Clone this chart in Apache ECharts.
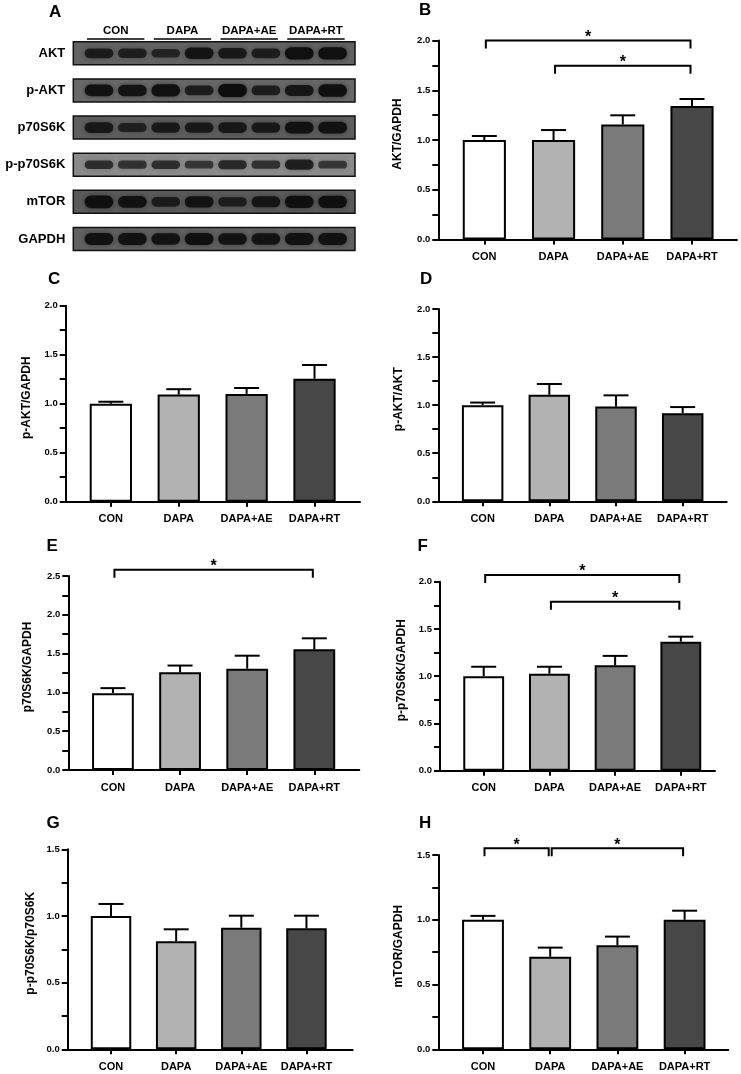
<!DOCTYPE html>
<html><head><meta charset="utf-8">
<script src="https://cdn.jsdelivr.net/npm/echarts@6/dist/echarts.min.js"></script>
<style>html,body{margin:0;padding:0;background:#fff}#c{width:741px;height:1074px}</style>
</head><body><div id="c"></div>
<script>
// ---------- data ----------
const categories = ['CON', 'DAPA', 'DAPA+AE', 'DAPA+RT'];
const yTicks05 = ['0.0', '0.5', '1.0', '1.5', '2.0', '2.5'];

// Western blot (panel A): relative band intensity, 8 lanes (2 per group)
const blotRows = ['AKT', 'p-AKT', 'p70S6K', 'p-p70S6K', 'mTOR', 'GAPDH'];
const blotGroups = ['CON', 'DAPA', 'DAPA+AE', 'DAPA+RT'];
const bandAKT     = [0.60, 0.55, 0.45, 0.80, 0.70, 0.60, 0.90, 0.90];
const bandPAKT    = [0.85, 0.80, 0.90, 0.60, 1.00, 0.60, 0.75, 0.95];
const bandP70     = [0.70, 0.50, 0.65, 0.65, 0.70, 0.65, 0.85, 0.85];
const bandPP70    = [0.45, 0.40, 0.45, 0.35, 0.50, 0.40, 0.65, 0.35];
const bandMTOR    = [0.95, 0.85, 0.60, 0.80, 0.55, 0.75, 0.90, 0.90];
const bandGAPDH   = [0.85, 0.85, 0.80, 0.90, 0.80, 0.80, 0.85, 0.85];

// Bar panels: mean and SEM per group
const aktGapdhMean   = [1.00, 1.00, 1.155, 1.342];
const aktGapdhSem    = [0.040, 0.100, 0.093, 0.070];
const pAktGapdhMean  = [1.00, 1.093, 1.100, 1.255];
const pAktGapdhSem   = [0.020, 0.055, 0.060, 0.140];
const pAktAktMean    = [1.00, 1.108, 0.985, 0.915];
const pAktAktSem     = [0.027, 0.112, 0.117, 0.065];
const p70GapdhMean   = [0.99, 1.260, 1.306, 1.555];
const p70GapdhSem    = [0.065, 0.086, 0.167, 0.142];
const pP70GapdhMean  = [1.00, 1.025, 1.115, 1.365];
const pP70GapdhSem   = [0.100, 0.075, 0.100, 0.053];
const pP70P70Mean    = [1.00, 0.810, 0.912, 0.907];
const pP70P70Sem     = [0.090, 0.090, 0.090, 0.095];
const mtorGapdhMean  = [1.00, 0.715, 0.803, 1.000];
const mtorGapdhSem   = [0.030, 0.070, 0.067, 0.070];

// significance brackets: [fromGroup, toGroup, height]
const sigB = [[0, 3, 2.00], [1, 3, 1.747]];
const sigC = [];
const sigD = [];
const sigE = [[0, 3, 2.58]];
const sigF = [[0, 3, 2.07], [1, 3, 1.788]];
const sigG = [];
const sigH = [[0, 1, 1.552], [1, 3, 1.552]];

// ---------- style / layout ----------
const FONT = '"Liberation Sans", Arial, sans-serif';
const barColors = ['#ffffff', '#b2b2b2', '#7a7a7a', '#474747'];
const blotBg = ['#626262', '#686868', '#5e5e5e', '#8a8a8a', '#5a5a5a', '#606060'];
const XMIN = -0.665;

const panels = [
  {letter:'B', lx:419, ly:2,   name:'AKT/GAPDH',        mean:aktGapdhMean,  sem:aktGapdhSem,  sig:sigB, left:438.3, top:40.5,  width:298.7, height:199,   ymax:2.0, xmax:3.65, nameGap:35},
  {letter:'C', lx:48,  ly:271, name:'p-AKT/GAPDH',      mean:pAktGapdhMean, sem:pAktGapdhSem, sig:sigC, left:65.7,  top:305.7, width:294.3, height:196,   ymax:2.0, xmax:3.67, nameGap:33},
  {letter:'D', lx:420, ly:271, name:'p-AKT/AKT',        mean:pAktAktMean,   sem:pAktAktSem,   sig:sigD, left:438.3, top:309,   width:288.4, height:192.3, ymax:2.0, xmax:3.66, nameGap:34},
  {letter:'E', lx:46.5,ly:538, name:'p70S6K/GAPDH',     mean:p70GapdhMean,  sem:p70GapdhSem,  sig:sigE, left:68.3,  top:576,   width:291,   height:194,   ymax:2.5, xmax:3.67, nameGap:35},
  {letter:'F', lx:417.5,ly:538,name:'p-p70S6K/GAPDH',   mean:pP70GapdhMean, sem:pP70GapdhSem, sig:sigF, left:440,   top:581.7, width:275,   height:189,   ymax:2.0, xmax:3.52, nameGap:32},
  {letter:'G', lx:46.5,ly:815, name:'p-p70S6K/p70S6K',  mean:pP70P70Mean,   sem:pP70P70Sem,   sig:sigG, left:67.7,  top:849.3, width:285,   height:200,   ymax:1.5, xmax:3.71, nameGap:31},
  {letter:'H', lx:419, ly:815, name:'mTOR/GAPDH',       mean:mtorGapdhMean, sem:mtorGapdhSem, sig:sigH, left:438.3, top:855,   width:290,   height:194.3, ymax:1.5, xmax:3.65, nameGap:34}
];

const grids = [], xAxes = [], yAxes = [], series = [], titles = [];

// ---------- Panel A : western blot ----------
const BLOT_XMIN = -0.77, BLOT_XMAX = 7.67;
grids.push({left:73.3, top:34.75, width:281.7, height:222.8, outerBoundsMode:'none'});
xAxes.push({gridIndex:0, type:'value', min:BLOT_XMIN, max:BLOT_XMAX, show:false});
yAxes.push({gridIndex:0, type:'value', min:-0.5, max:5.5, inverse:true, show:false});
titles.push({text:'A', left:49, top:4, padding:0, textStyle:{fontSize:17, fontWeight:'bold', color:'#000', fontFamily:FONT}});

const bandRows = [bandAKT, bandPAKT, bandP70, bandPP70, bandMTOR, bandGAPDH];
series.push({
  type:'custom', xAxisIndex:0, yAxisIndex:0, clip:false, z:2,
  data: blotRows.map((n, i) => [i]),
  renderItem: (params, api) => {
    const r = api.value(0);
    const a = api.coord([BLOT_XMIN, r - 0.31]);
    const b = api.coord([BLOT_XMAX, r + 0.31]);
    return {type:'group', children:[
      {type:'rect', shape:{x:a[0], y:a[1], width:b[0]-a[0], height:b[1]-a[1]},
       style:{fill:blotBg[r], stroke:'#111', lineWidth:1.5}},
      {type:'text', x:a[0]-8, y:(a[1]+b[1])/2,
       style:{text:blotRows[r], fill:'#000', font:'bold 13px ' + FONT, align:'right', verticalAlign:'middle'}}
    ]};
  }
});
const bandData = [];
bandRows.forEach((arr, r) => arr.forEach((v, l) => bandData.push([l, r, v])));
series.push({
  type:'custom', xAxisIndex:0, yAxisIndex:0, clip:false, z:3,
  data: bandData,
  renderItem: (params, api) => {
    const l = api.value(0), r = api.value(1), v = api.value(2);
    const c = api.coord([l, r]);
    const w = api.size([0.86, 0])[0];
    const h = 5 + 8 * v;
    return {type:'rect', shape:{x:c[0]-w/2, y:c[1]-h/2, width:w, height:h, r:h/2},
      style:{fill:'rgba(14,14,14,' + (0.45 + 0.55*v).toFixed(2) + ')', shadowBlur:4, shadowColor:'rgba(14,14,14,' + (0.6*v).toFixed(2) + ')'}};
  }
});
series.push({
  type:'custom', xAxisIndex:0, yAxisIndex:0, clip:false, z:3,
  data: blotGroups.map((g, i) => [i]),
  renderItem: (params, api) => {
    const g = api.value(0);
    const mid = 2*g + 0.5;
    const p1 = api.coord([mid - 0.86, -0.385]);
    const p2 = api.coord([mid + 0.86, -0.385]);
    const t = api.coord([mid, -0.6]);
    return {type:'group', children:[
      {type:'line', shape:{x1:p1[0], y1:p1[1], x2:p2[0], y2:p2[1]}, style:{stroke:'#000', lineWidth:1.5}},
      {type:'text', x:t[0], y:t[1], style:{text:blotGroups[g], fill:'#000', font:'bold 11.5px ' + FONT, align:'center', verticalAlign:'middle'}}
    ]};
  }
});

// ---------- bar panels ----------
panels.forEach((p, k) => {
  const gi = k + 1;
  grids.push({left:p.left, top:p.top, width:p.width, height:p.height, outerBoundsMode:'none'});
  xAxes.push({
    gridIndex:gi, type:'value', min:XMIN, max:p.xmax,
    axisLine:{show:true, onZero:false, lineStyle:{color:'#000', width:2}},
    axisTick:{show:true, customValues:[0,1,2,3], length:5, inside:false, lineStyle:{color:'#000', width:2}},
    axisLabel:{show:true, customValues:[0,1,2,3], formatter:(v) => categories[Math.round(v)] || '',
      margin:12, fontSize:11, fontWeight:'bold', color:'#000', fontFamily:FONT},
    splitLine:{show:false}
  });
  yAxes.push({
    gridIndex:gi, type:'value', min:0, max:p.ymax, interval:0.25,
    name:p.name, nameLocation:'middle', nameGap:p.nameGap, nameRotate:90,
    nameTextStyle:{fontSize:12, fontWeight:'bold', color:'#000', fontFamily:FONT, padding:[0,0,0,12]},
    axisLine:{show:true, onZero:false, lineStyle:{color:'#000', width:2}},
    axisTick:{show:true, length:6, inside:false, lineStyle:{color:'#000', width:2}},
    axisLabel:{show:true, margin:8, fontSize:9.5, fontWeight:'bold', color:'#000', fontFamily:FONT,
      formatter:(v) => { const i = Math.round(v / 0.5); return Math.abs(v - i*0.5) < 1e-6 ? yTicks05[i] : ''; }},
    splitLine:{show:false}
  });
  titles.push({text:p.letter, left:p.lx, top:p.ly, padding:0, textStyle:{fontSize:17, fontWeight:'bold', color:'#000', fontFamily:FONT}});

  const s = p.width / (p.xmax - XMIN);
  const barW = 0.652 * s - 2;
  // error bars (upper only)
  series.push({
    type:'custom', xAxisIndex:gi, yAxisIndex:gi, clip:false, z:2,
    data: p.mean.map((m, i) => [i, m, m + p.sem[i]]),
    renderItem: (params, api) => {
      const a = api.coord([api.value(0), api.value(1)]);
      const b = api.coord([api.value(0), api.value(2)]);
      return {type:'group', children:[
        {type:'line', shape:{x1:a[0], y1:a[1], x2:b[0], y2:b[1]}, style:{stroke:'#000', lineWidth:2}},
        {type:'line', shape:{x1:b[0]-12.5, y1:b[1], x2:b[0]+12.5, y2:b[1]}, style:{stroke:'#000', lineWidth:2}}
      ]};
    }
  });
  // bars
  series.push({
    type:'bar', xAxisIndex:gi, yAxisIndex:gi, barWidth:barW, z:3,
    data: p.mean.map((m, i) => ({value:[i, m], itemStyle:{color:barColors[i]}})),
    itemStyle:{borderColor:'#000', borderWidth:2}
  });
  // significance brackets
  if (p.sig.length) {
    series.push({
      type:'custom', xAxisIndex:gi, yAxisIndex:gi, clip:false, z:4,
      data: p.sig.map(d => d.slice()),
      renderItem: (params, api) => {
        const a = api.coord([api.value(0), api.value(2)]);
        const b = api.coord([api.value(1), api.value(2)]);
        const x1 = a[0] + 1.5, x2 = b[0] - 1.5, y = a[1], drop = 8;
        return {type:'group', children:[
          {type:'polyline', shape:{points:[[x1, y+drop],[x1, y],[x2, y],[x2, y+drop]]}, style:{stroke:'#000', lineWidth:2, fill:null}},
          {type:'text', x:(x1+x2)/2, y:y-3, style:{text:'*', fill:'#000', font:'bold 16px ' + FONT, align:'center', verticalAlign:'middle'}}
        ]};
      }
    });
  }
});

const chart = echarts.init(document.getElementById('c'), null, {renderer:'canvas'});
chart.setOption({
  backgroundColor:'#ffffff',
  animation:false,
  title:titles,
  grid:grids,
  xAxis:xAxes,
  yAxis:yAxes,
  series:series
});
</script>
</body></html>
